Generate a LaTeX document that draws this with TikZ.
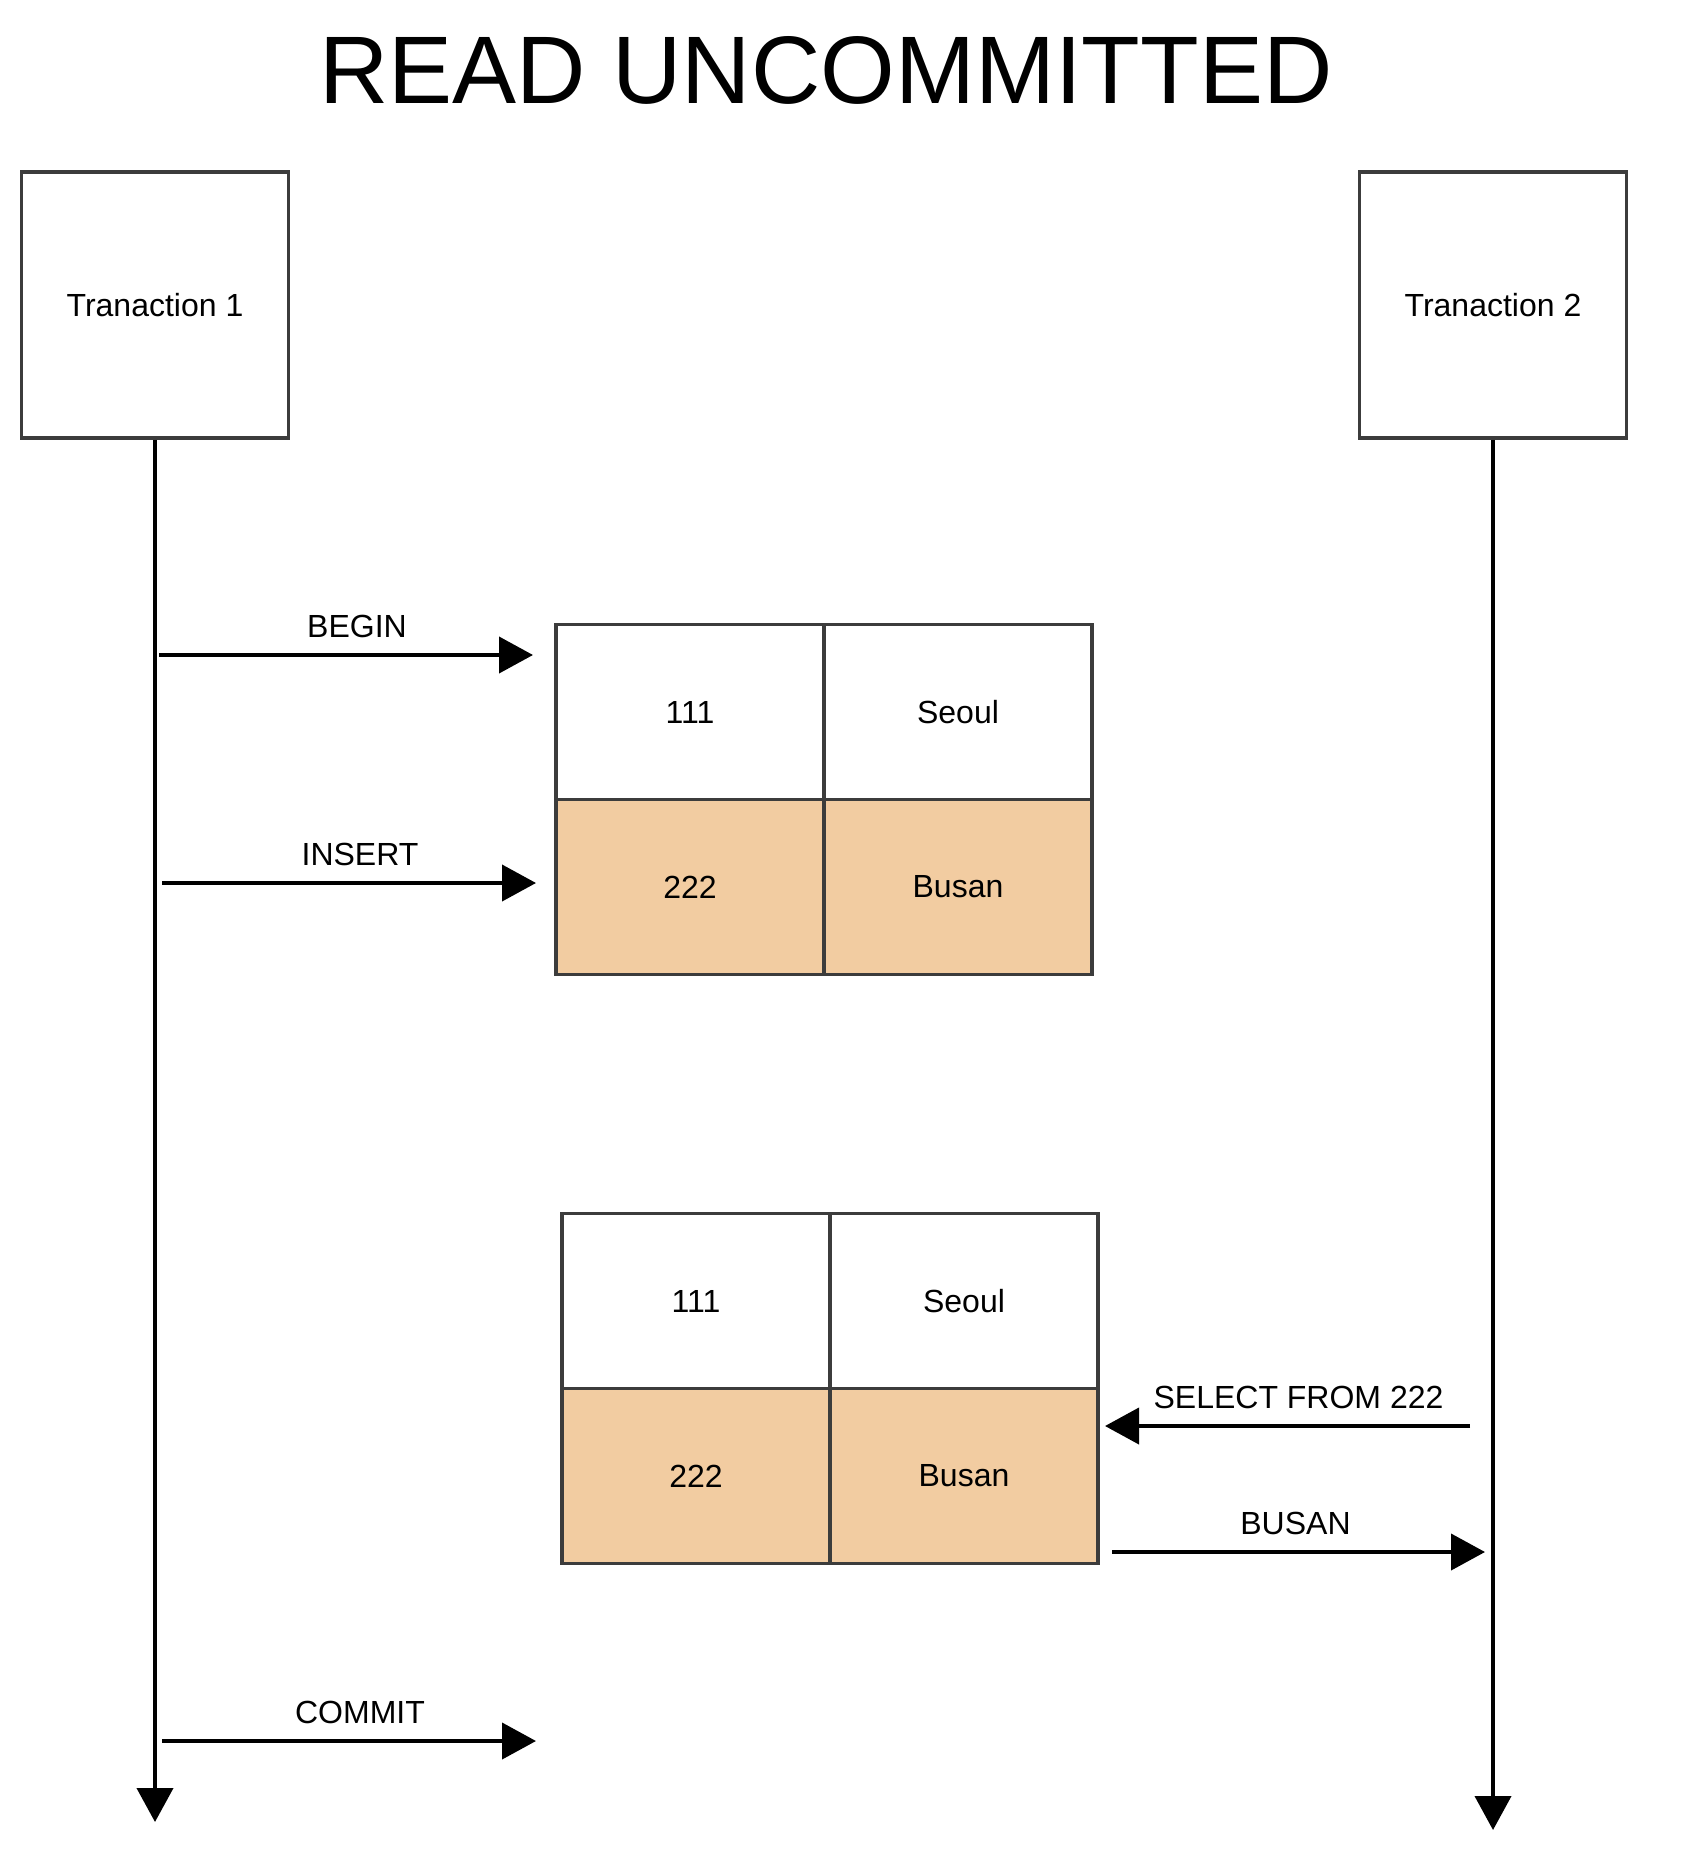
\documentclass[tikz,border=0pt]{standalone}
\usepackage{fontspec}
\setmainfont{Liberation Sans}
\usetikzlibrary{arrows.meta,positioning}
\definecolor{cellpeach}{RGB}{242,204,161}
\definecolor{edgegray}{RGB}{60,60,60}

\begin{document}
\begin{tikzpicture}[x=0.5pt,y=-0.5pt,
  txbox/.style={draw=edgegray,line width=1.9pt,minimum width=133.5pt,minimum height=133pt,font=\fontsize{16}{19}\selectfont},
  cell/.style={draw=edgegray,line width=1.9pt,minimum width=134pt,minimum height=87.5pt,outer sep=0pt,inner sep=0pt,font=\fontsize{16}{19}\selectfont},
  msg/.style={line width=2pt,-{Triangle[length=17pt,width=18pt]}},
  msglabel/.style={above=7.5pt,xshift=5.5pt,inner sep=0pt,font=\fontsize{16}{19}\selectfont}]
\useasboundingbox (0,0) rectangle (1684,1850);

% --- title ---
\node[font=\fontsize{48}{56}\selectfont,inner sep=0pt] (title) at (826,70) {READ UNCOMMITTED};

% --- transactions and lifelines ---
\node[txbox] (t1) at (155,305) {Tranaction 1};
\node[txbox] (t2) at (1493,305) {Tranaction 2};
\coordinate (t1end) at (155,1822);
\coordinate (t2end) at (1493,1830);
\draw[msg] (t1.south) -- (t1end);
\draw[msg] (t2.south) -- (t2end);

% --- tables (a: after insert, b: read by T2) ---
\foreach \t/\x/\y in {a/690/712,b/696/1301}{
  \node[cell] (\t11) at (\x,\y) {111};
  \node[cell,right=0pt of \t11] (\t12) {Seoul};
  \node[cell,fill=cellpeach,below=0pt of \t11] (\t21) {222};
  \node[cell,fill=cellpeach,right=0pt of \t21] (\t22) {Busan};
}

% --- messages ---
\coordinate (begin0) at (159,655);
\coordinate (begin1) at (533,655);
\draw[msg] (begin0) -- node[msglabel] (lbegin) {BEGIN} (begin1);
\coordinate (insert0) at (162,883);
\coordinate (insert1) at (536,883);
\draw[msg] (insert0) -- node[msglabel] (linsert) {INSERT} (insert1);
\coordinate (select0) at (1470,1426);
\coordinate (select1) at (1105,1426);
\draw[msg] (select0) -- node[msglabel] (lselect) {SELECT FROM 222} (select1);
\coordinate (busan0) at (1112,1552);
\coordinate (busan1) at (1485,1552);
\draw[msg] (busan0) -- node[msglabel,xshift=-7pt] (lbusan) {BUSAN} (busan1);
\coordinate (commit0) at (162,1741);
\coordinate (commit1) at (536,1741);
\draw[msg] (commit0) -- node[msglabel] (lcommit) {COMMIT} (commit1);
\end{tikzpicture}
\end{document}
